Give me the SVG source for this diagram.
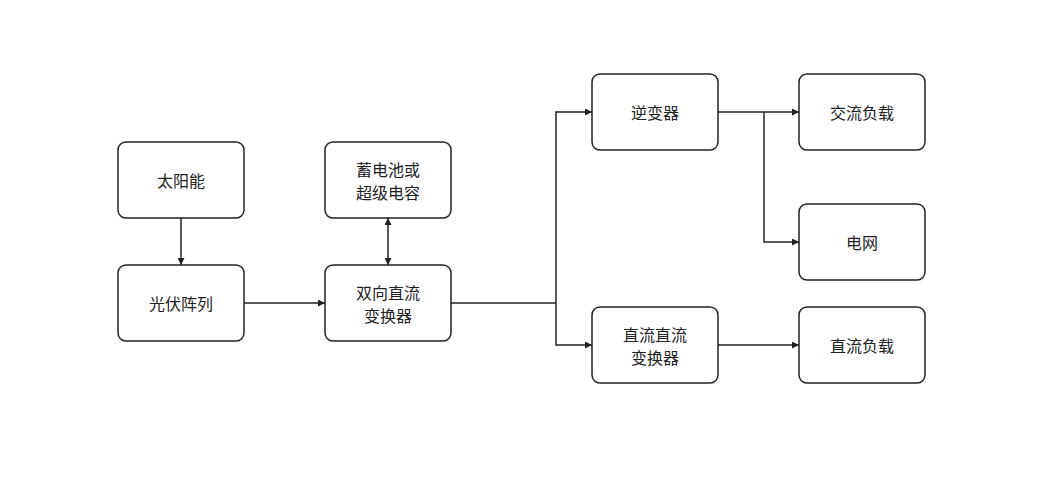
<svg xmlns="http://www.w3.org/2000/svg" width="1062" height="500" viewBox="0 0 1062 500">
<style>
.n rect{fill:#fff;stroke:#222;stroke-width:1.5}
.n text{font-family:"Noto Sans CJK SC",sans-serif;font-size:16px;fill:#222;text-anchor:middle;dominant-baseline:central}
.c path{fill:none;stroke:#222;stroke-width:1.5}
</style>
<defs>
<marker id="a" viewBox="0 0 10 10" refX="10" refY="5" markerWidth="7" markerHeight="7" orient="auto-start-reverse" markerUnits="userSpaceOnUse"><path d="M0,0L10,5L0,10z" fill="#222"/></marker>
</defs>
<rect width="1062" height="500" fill="#fff"/>
<g class="c">
<path d="M181,218V265" marker-end="url(#a)"/>
<path d="M244,303H325" marker-end="url(#a)"/>
<path d="M388,218V265" marker-start="url(#a)" marker-end="url(#a)"/>
<path d="M451,303H556"/>
<path d="M556,303V112H592" marker-end="url(#a)"/>
<path d="M556,303V345H592" marker-end="url(#a)"/>
<path d="M718,112H799" marker-end="url(#a)"/>
<path d="M764,112V242H799" marker-end="url(#a)"/>
<path d="M718,345H799" marker-end="url(#a)"/>
</g>
<g class="n" id="solar"><rect x="118" y="142" width="126" height="76" rx="8"/><text x="181" y="180">太阳能</text></g>
<g class="n" id="pv"><rect x="118" y="265" width="126" height="76" rx="8"/><text x="181" y="303">光伏阵列</text></g>
<g class="n" id="battery"><rect x="325" y="142" width="126" height="76" rx="8"/><text x="388" y="169">蓄电池或</text><text x="388" y="192">超级电容</text></g>
<g class="n" id="bidc"><rect x="325" y="265" width="126" height="76" rx="8"/><text x="388" y="292">双向直流</text><text x="388" y="315">变换器</text></g>
<g class="n" id="inv"><rect x="592" y="74" width="126" height="76" rx="8"/><text x="655" y="112">逆变器</text></g>
<g class="n" id="dcdc"><rect x="592" y="307" width="126" height="76" rx="8"/><text x="655" y="334">直流直流</text><text x="655" y="357">变换器</text></g>
<g class="n" id="acload"><rect x="799" y="74" width="126" height="76" rx="8"/><text x="862" y="112">交流负载</text></g>
<g class="n" id="grid"><rect x="799" y="204" width="126" height="76" rx="8"/><text x="862" y="242">电网</text></g>
<g class="n" id="dcload"><rect x="799" y="307" width="126" height="76" rx="8"/><text x="862" y="345">直流负载</text></g>
</svg>
